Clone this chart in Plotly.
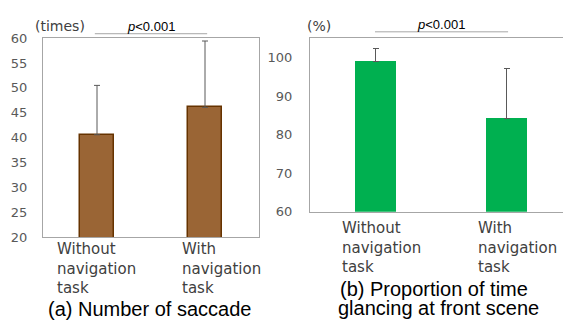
import plotly.graph_objects as go

W, H = 563, 329

categories = ["Without<br>navigation<br>task", "With<br>navigation<br>task"]
cat_keys = [0, 1]

saccade_mean = [40.6, 46.1]
saccade_sd = [9.9, 13.3]

front_mean = [99.0, 84.1]
front_sd = [3.5, 13.2]

left_ticks = [20, 25, 30, 35, 40, 45, 50, 55, 60]
right_ticks = [60, 70, 80, 90, 100]

title_a = "(a) Number of saccade"
title_b1 = "(b) Proportion of time"
title_b2 = "glancing at front scene"
sig_text = "<i>p</i><0.001"

TICKFONT = dict(family="DejaVu Sans", size=13, color="#595959")
LABFONT = dict(family="DejaVu Sans", size=15, color="#404040")
BOX = "#a6a6a6"

def py(p):
    return (H - p) / H

fig = go.Figure()

fig.add_trace(go.Bar(
    x=cat_keys, y=saccade_mean, width=0.316,
    marker=dict(color="#9a6535", line=dict(color="#663300", width=1.5)),
    error_y=dict(type="data", symmetric=False, array=saccade_sd,
                 arrayminus=[0, 0], color="#595959", thickness=1, width=3),
    xaxis="x", yaxis="y", showlegend=False,
))
fig.add_trace(go.Bar(
    x=cat_keys, y=front_mean, width=0.313,
    marker=dict(color="#00b050", line=dict(width=0)),
    error_y=dict(type="data", symmetric=False, array=front_sd,
                 arrayminus=[0, 0], color="#595959", thickness=1, width=3),
    xaxis="x2", yaxis="y2", showlegend=False,
))

fig.update_layout(
    width=W, height=H,
    margin=dict(l=0, r=0, t=0, b=0),
    paper_bgcolor="white", plot_bgcolor="white",
    xaxis=dict(domain=[43 / W, 259 / W], range=[-0.5, 1.5],
               showticklabels=False, showgrid=False, zeroline=False,
               showline=True, linecolor=BOX, linewidth=1, mirror=True,
               anchor="y", fixedrange=True),
    yaxis=dict(domain=[py(241.5), py(32.5)], range=[20, 60],
               tickvals=left_ticks, tickfont=TICKFONT, ticks="",
               ticklabelstandoff=12,
               showgrid=False, zeroline=False,
               showline=True, linecolor=BOX, linewidth=1, mirror=True,
               anchor="x"),
    xaxis2=dict(domain=[310 / W, 1.0], range=[-0.5, 1.431],
                showticklabels=False, showgrid=False, zeroline=False,
                showline=True, linecolor=BOX, linewidth=1, mirror=True,
                anchor="y2"),
    yaxis2=dict(domain=[py(214.5), py(33)], range=[60, 105],
                tickvals=right_ticks, tickfont=TICKFONT, ticks="",
                ticklabelstandoff=14,
                showgrid=False, zeroline=False,
                showline=True, linecolor=BOX, linewidth=1, mirror=False,
                anchor="x2"),
    bargap=0,
)

ann = []
# category labels (left-aligned, multi-line)
left_shifts = [-42, -25]
right_shifts = [-35.5, -30.5]
for k, txt in zip(cat_keys, categories):
    ann.append(dict(x=k, y=0, xref="x", yref="y domain", text=txt,
                    xanchor="left", yanchor="top", align="left",
                    xshift=left_shifts[k], yshift=-1, showarrow=False,
                    font=LABFONT))
    ann.append(dict(x=k, y=0, xref="x2", yref="y2 domain", text=txt,
                    xanchor="left", yanchor="top", align="left",
                    xshift=right_shifts[k], yshift=-5, showarrow=False,
                    font=LABFONT))

# units
ann.append(dict(x=33 / W, y=py(20), xref="paper", yref="paper", text="(times)",
                xanchor="left", yanchor="middle", showarrow=False,
                font=dict(family="DejaVu Sans", size=14, color="#404040")))
ann.append(dict(x=305 / W, y=py(20), xref="paper", yref="paper", text="(%)",
                xanchor="left", yanchor="middle", showarrow=False,
                font=dict(family="DejaVu Sans", size=14, color="#404040")))

# significance
sigfont = dict(family="Liberation Sans", size=13, color="#000000")
ann.append(dict(x=0.5, y=py(20), xref="x", yref="paper", text=sig_text,
                xanchor="center", yanchor="middle", showarrow=False, font=sigfont))
ann.append(dict(x=0.5, y=py(18), xref="x2", yref="paper", text=sig_text,
                xanchor="center", yanchor="middle", showarrow=False, font=sigfont))

# titles
tfont = dict(family="Liberation Sans", size=20, color="#000000")
ann.append(dict(x=149 / W, y=py(316), xref="paper", yref="paper", text=title_a,
                xanchor="center", yanchor="middle", showarrow=False, font=tfont))
ann.append(dict(x=434 / W, y=py(295), xref="paper", yref="paper", text=title_b1,
                xanchor="center", yanchor="middle", showarrow=False, font=tfont))
ann.append(dict(x=438 / W, y=py(315), xref="paper", yref="paper", text=title_b2,
                xanchor="center", yanchor="middle", showarrow=False, font=tfont))

fig.update_layout(annotations=ann)

shapes = [
    dict(type="line", xref="x", yref="paper", x0=-0.02, x1=1.02,
         y0=py(28), y1=py(28), line=dict(color="#a6a6a6", width=1)),
    dict(type="line", xref="x2", yref="paper", x0=-0.004, x1=1.012,
         y0=py(26), y1=py(26), line=dict(color="#a6a6a6", width=1)),
]
fig.update_layout(shapes=shapes)

fig.write_html("out.html")
